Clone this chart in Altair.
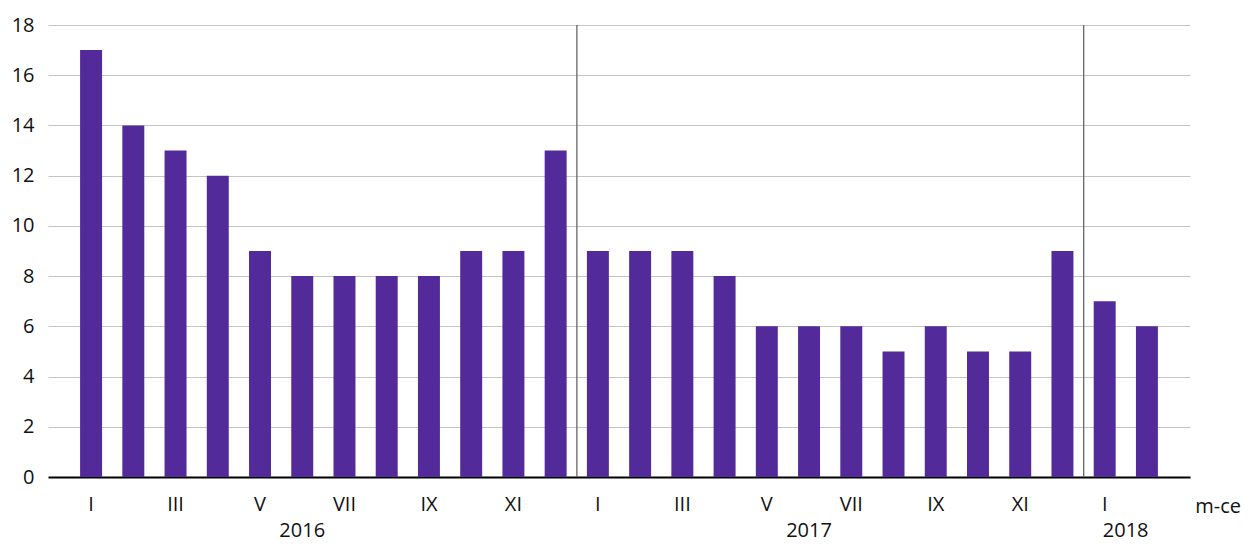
import altair as alt
import pandas as pd

years = [2016] * 12 + [2017] * 12 + [2018] * 2
months = list(range(1, 13)) + list(range(1, 13)) + [1, 2]
roman = ["I", "II", "III", "IV", "V", "VI", "VII", "VIII", "IX", "X", "XI", "XII"]
values = [17, 14, 13, 12, 9, 8, 8, 8, 8, 9, 9, 13,
          9, 9, 9, 8, 6, 6, 6, 5, 6, 5, 5, 9,
          7, 6]
year_labels = ["2016", "2017", "2018"]
year_anchor_month = [6, 6, 1]
separator_years = [2017, 2018]
unit_label = "m-ce"

FONT = "Open Sans"
FS = 20
BAR = "#522A9A"


def key(y, m):
    lab = roman[m - 1] if m % 2 == 1 else ""
    return f"{y}-{m:02d}|{lab}"


keys = [key(y, m) for y, m in zip(years, months)]
df = pd.DataFrame({"k": keys, "v": values})

W, H = 1142, 452

xscale = alt.Scale(domain=keys, paddingInner=0.48, paddingOuter=0.76)
x_enc = alt.X("k:N", scale=xscale, sort=None, title=None,
              axis=alt.Axis(labelExpr="split(datum.value, '|')[1]", labelAngle=0,
                            labelFont=FONT, labelFontSize=FS, labelColor="#111",
                            labelPadding=17, ticks=False, domainColor="#000",
                            domainWidth=2, labelBaseline="top"))

bars = alt.Chart(df).mark_bar(color=BAR).encode(
    x=x_enc,
    y=alt.Y("v:Q", scale=alt.Scale(domain=[0, 18], nice=False), title=None,
            axis=alt.Axis(values=list(range(0, 19, 2)), grid=True, gridColor="#c4c4c4",
                          gridWidth=1, domain=False, ticks=False, labelFont=FONT,
                          labelFontSize=FS, labelColor="#111", labelPadding=14)),
)

sep_df = pd.DataFrame({"k": [key(y, 1) for y in separator_years]})
seps = alt.Chart(sep_df).mark_rule(color="#666", strokeWidth=1.3, xOffset=-21).encode(
    x=alt.X("k:N", scale=xscale, sort=None),
    y=alt.value(0), y2=alt.value(H),
)

yl = pd.DataFrame({"k": [key(int(y), m) for y, m in zip(year_labels, year_anchor_month)],
                   "t": year_labels})
year_txt_a = alt.Chart(yl.iloc[:2]).mark_text(font=FONT, fontSize=FS, color="#111",
                                            baseline="middle").encode(
    x=alt.X("k:N", scale=xscale, sort=None), y=alt.value(H + 54), text="t:N")
year_txt_b = alt.Chart(yl.iloc[2:]).mark_text(font=FONT, fontSize=FS, color="#111",
                                            baseline="middle", dx=21).encode(
    x=alt.X("k:N", scale=xscale, sort=None), y=alt.value(H + 54), text="t:N")

unit = alt.Chart(pd.DataFrame({"t": [unit_label]})).mark_text(
    font=FONT, fontSize=FS, color="#111", baseline="middle", align="right").encode(
    x=alt.value(W + 51), y=alt.value(H + 30), text="t:N")

chart = alt.layer(bars, seps, year_txt_a, year_txt_b, unit).properties(
    width=W, height=H, autosize="none",
    padding={"left": 40, "top": 17, "right": 54, "bottom": 67},
).configure_view(stroke=None)

chart.save("out.html", embed_options={"renderer": "svg", "actions": False})
